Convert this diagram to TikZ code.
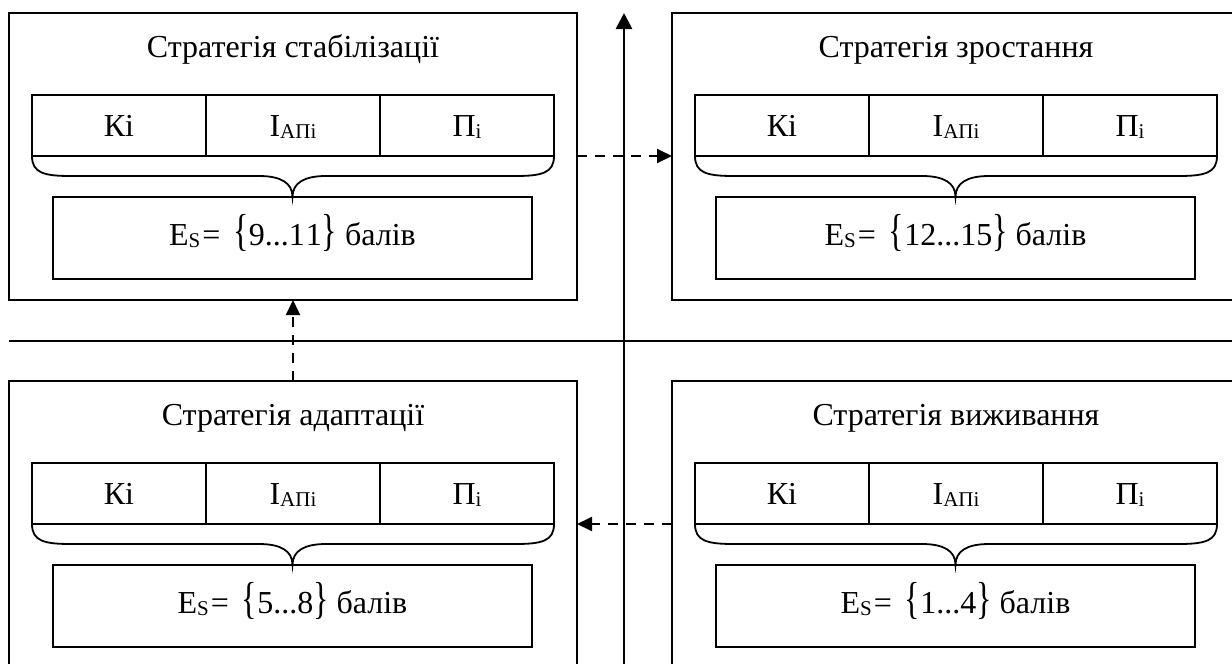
\documentclass[tikz,border=0pt]{standalone}
\usepackage{fontspec}
\setmainfont{Liberation Serif}
\usetikzlibrary{arrows.meta}
\newcommand\lowsub[1]{\raisebox{-2pt}{\fontsize{21}{21}\selectfont #1}}
\newcommand\bigbr[1]{\scalebox{1}[1.4]{#1}}
\newcommand\stratbox[5]{%
  \node[outerbox, anchor=north west] (#1) at (#2,#3) {};
  \node[titletext] (#1-t) at (#2+284,#3+44) {Стратегія #4};
  \node[cell, anchor=north west] (#1-k) at (#2+23,#3+82) {Кі};
  \node[cell, anchor=north west] (#1-i) at (#2+197,#3+82) {I\lowsub{АПі}};
  \node[cell, anchor=north west] (#1-p) at (#2+371,#3+82) {П\lowsub{і}};
  \draw[bracepath] (#1-k.south west)
     .. controls (#2+23,#3+160) and (#2+35,#3+163) .. (#2+62,#3+163)
     -- (#2+250,#3+163)
     .. controls (#2+272,#3+163) and (#2+283.5,#3+170) .. (#2+283.5,#3+184)
     .. controls (#2+283.5,#3+170) and (#2+295,#3+163) .. (#2+317,#3+163)
     -- (#2+506,#3+163)
     .. controls (#2+533,#3+163) and (#2+545,#3+160) .. (#1-p.south east);
  \node[ebox, anchor=north] (#1-e) at (#2+283.5,#3+184) {};
  \node[etext] (#1-et) at (#2+283.5,#3+232)
     {E\lowsub{S}\kern2pt=\hspace{13pt}\bigbr{\{}#5\bigbr{\}} балів};
}
\begin{document}
\begin{tikzpicture}[x=1pt,y=-1pt,
  font=\fontsize{32}{38}\selectfont,
  outerbox/.style={draw, line width=1.8pt, minimum width=568pt, minimum height=287pt, inner sep=0pt, outer sep=0pt},
  cell/.style={draw, line width=1.8pt, minimum width=174pt, minimum height=61pt, inner sep=0pt, outer sep=0pt, text height=22pt, text depth=0pt},
  ebox/.style={draw, line width=1.8pt, minimum width=479pt, minimum height=82pt, inner sep=0pt, outer sep=0pt},
  titletext/.style={anchor=base, inner sep=0pt},
  etext/.style={anchor=base, inner sep=0pt},
  bracepath/.style={line width=1.8pt},
  axisline/.style={line width=2.6pt, -{Triangle[length=16pt,width=16pt]}},
  divline/.style={line width=1.8pt},
  dasharrow/.style={line width=2pt, dash pattern=on 10pt off 8pt, -{Triangle[length=15pt,width=14pt]}}
]
\useasboundingbox (0,0) rectangle (1232,664);
\fill[white] (0,0) rectangle (1232,664);
\clip (0,0) rectangle (1232,664);

\stratbox{tl}{9}{13}{стабілізації}{9...1\kern1pt1}
\stratbox{tr}{672}{13}{зростання}{12...15}
\stratbox{bl}{9}{381}{адаптації}{5...8}
\stratbox{br}{672}{381}{виживання}{1...4}

\coordinate (hleft) at (9,341);
\coordinate (hright) at (1232,341);
\draw[divline] (hleft) -- (hright);

\coordinate (axbot) at (624,664);
\coordinate (axtop) at (624,13);
\draw[axisline] (axbot) -- (axtop);

\draw[dasharrow] (tl-p.south -| tl.east) -- (tl-p.south -| tr.west);
\draw[dasharrow] (bl.north) -- (tl.south);
\draw[dasharrow] (br-k.south -| br.west) -- (br-k.south -| bl.east);
\end{tikzpicture}
\end{document}
